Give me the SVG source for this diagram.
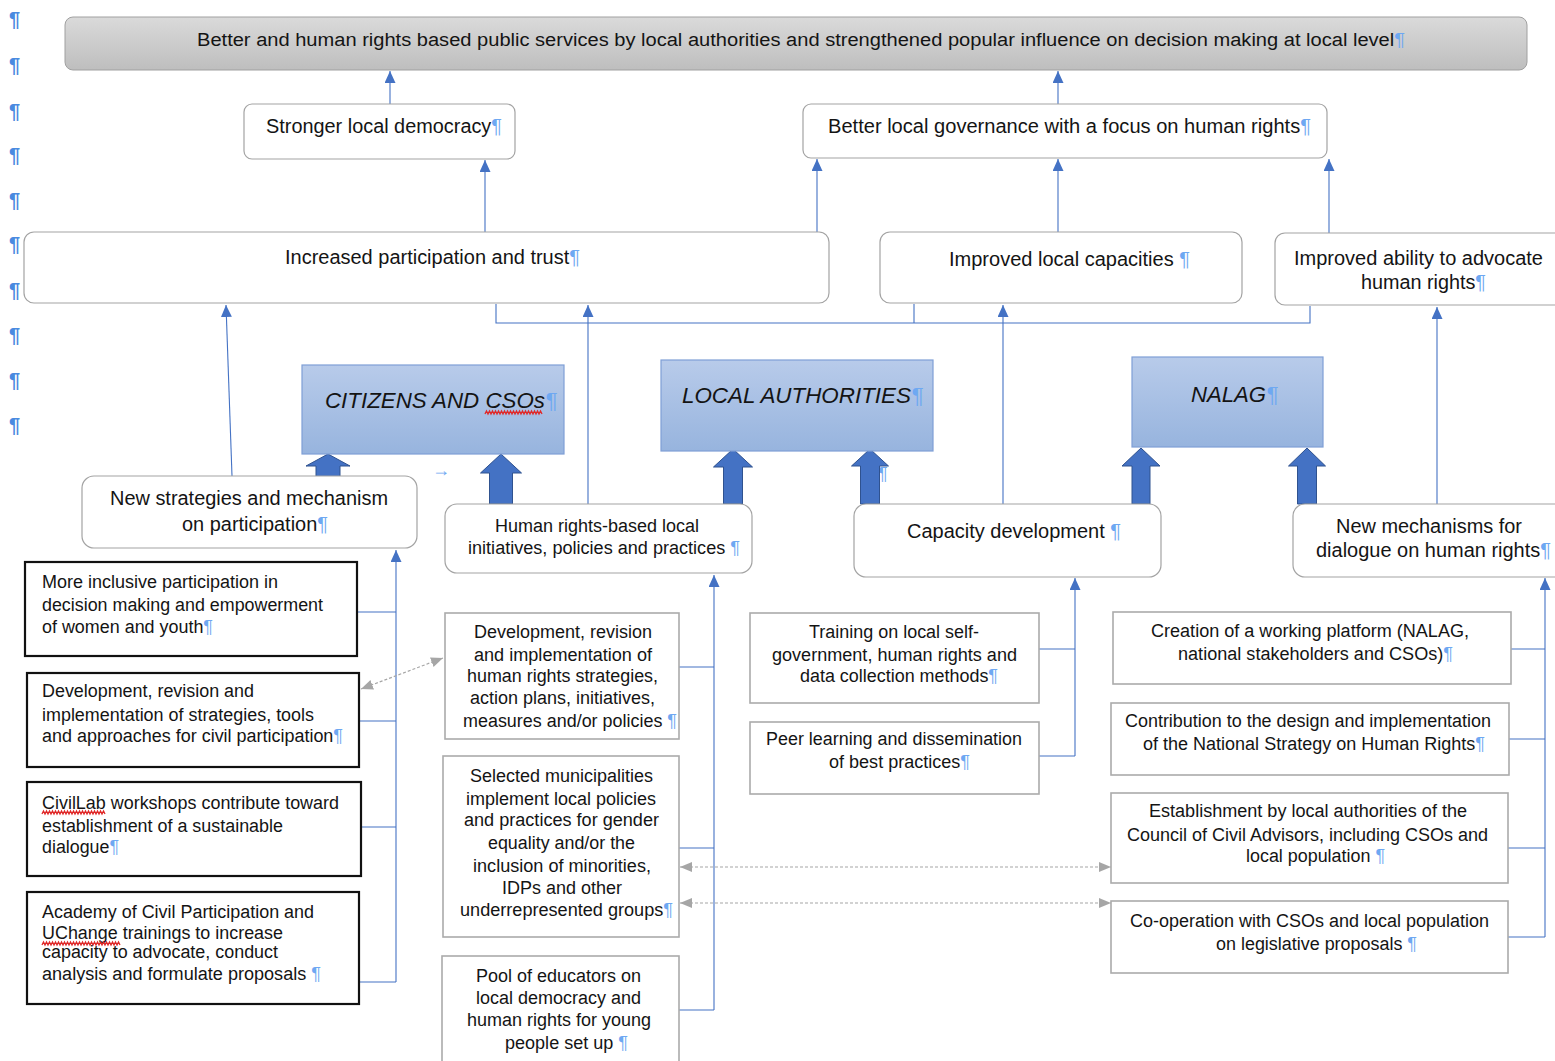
<svg xmlns="http://www.w3.org/2000/svg" width="1555" height="1061" viewBox="0 0 1555 1061">
<style>
.t{font-family:"Liberation Sans",Arial,Helvetica,sans-serif;font-size:18px;fill:#141414}
.b{font-size:20px}
.i{font-style:italic;font-size:22px}
.p{fill:#6ea8f2}
.lp{font-family:"Liberation Sans",Arial,sans-serif;font-size:20px;font-weight:bold;fill:#4a8ae0}
.rb{fill:#fff;stroke:#a3a3a3;stroke-width:1.2}
.gb{fill:#fff;stroke:#ababab;stroke-width:1.6}
.kb{fill:#fff;stroke:#111;stroke-width:2.2}
.bb{fill:url(#blueg);stroke:#7f9fd6;stroke-width:1.2}
.cn{fill:none;stroke:#4472c4;stroke-width:1.1}
.ar{marker-end:url(#ah)}
.ds{fill:none;stroke:#a6a6a6;stroke-width:1.2;stroke-dasharray:3 2;marker-start:url(#gh);marker-end:url(#gh)}
.fat{fill:#4472c4;stroke:#2f528f;stroke-width:1}
.sq{fill:none;stroke:#e02a2a;stroke-width:1.3}
</style>
<defs>
<linearGradient id="greyg" x1="0" y1="0" x2="0" y2="1"><stop offset="0" stop-color="#dadada"/><stop offset="1" stop-color="#bebebe"/></linearGradient>
<linearGradient id="blueg" x1="0" y1="0" x2="0" y2="1"><stop offset="0" stop-color="#b8cbea"/><stop offset="1" stop-color="#97b4de"/></linearGradient>
<marker id="ah" viewBox="0 0 12 11" markerWidth="12" markerHeight="11" refX="12" refY="5.5" orient="auto" markerUnits="userSpaceOnUse"><path d="M0,0 L12,5.5 L0,11 Z" fill="#4472c4"/></marker>
<marker id="gh" viewBox="0 0 12 10" markerWidth="12" markerHeight="10" refX="12" refY="5" orient="auto-start-reverse" markerUnits="userSpaceOnUse"><path d="M0,0 L12,5 L0,10 Z" fill="#a6a6a6"/></marker>
</defs>
<rect width="1555" height="1061" fill="#fff"/>

<g id="margin-marks">
<text class="lp" x="9" y="26">¶</text>
<text class="lp" x="9" y="72">¶</text>
<text class="lp" x="9" y="118">¶</text>
<text class="lp" x="9" y="162">¶</text>
<text class="lp" x="9" y="207">¶</text>
<text class="lp" x="9" y="251">¶</text>
<text class="lp" x="9" y="297">¶</text>
<text class="lp" x="9" y="342">¶</text>
<text class="lp" x="9" y="387">¶</text>
<text class="lp" x="9" y="432">¶</text>
</g>

<g id="connectors">
<line class="cn ar" x1="390" y1="104" x2="390" y2="71"/>
<line class="cn ar" x1="1058" y1="104" x2="1058" y2="71"/>
<line class="cn ar" x1="485" y1="232" x2="485" y2="160"/>
<line class="cn ar" x1="817" y1="232" x2="817" y2="159"/>
<line class="cn ar" x1="1058" y1="232" x2="1058" y2="159"/>
<line class="cn ar" x1="1329" y1="233" x2="1329" y2="159"/>
<path class="cn" d="M496,304 V323 H1310 V306 M914,304 V323"/>
<line class="cn ar" x1="232" y1="476" x2="226" y2="305"/>
<line class="cn ar" x1="588" y1="504" x2="588" y2="305"/>
<line class="cn ar" x1="1003" y1="504" x2="1003" y2="305"/>
<line class="cn ar" x1="1437" y1="504" x2="1437" y2="307"/>
<line class="cn ar" x1="396" y1="982" x2="396" y2="550"/>
<path class="cn" d="M357,612 H396 M359,721 H396 M361,827 H396 M359,982 H396"/>
<line class="cn ar" x1="714" y1="1010" x2="714" y2="575"/>
<path class="cn" d="M679,667 H714 M679,848 H714 M679,1010 H714"/>
<line class="cn ar" x1="1075" y1="756" x2="1075" y2="578"/>
<path class="cn" d="M1039,649 H1075 M1039,756 H1075"/>
<line class="cn ar" x1="1545" y1="937" x2="1545" y2="578"/>
<path class="cn" d="M1511,649 H1545 M1509,739 H1545 M1508,848 H1545 M1508,937 H1545"/>
<line class="ds" x1="361" y1="689" x2="443" y2="658"/>
<line class="ds" x1="680" y1="867" x2="1111" y2="867"/>
<line class="ds" x1="680" y1="903" x2="1111" y2="903"/>
<path class="fat" d="M328,454 L350,466 L340,466 L340,477 L316,477 L316,466 L306,466 Z"/>
<path class="fat" d="M501,454 L521.5,473 L512.5,473 L512.5,504 L489.5,504 L489.5,473 L480.5,473 Z"/>
<path class="fat" d="M733,449 L752.5,467 L742.5,467 L742.5,504 L723.5,504 L723.5,467 L713.5,467 Z"/>
<text class="t p" x="878" y="480" font-size="14">¶</text>
<path class="fat" d="M870,449 L888.5,466 L879.5,466 L879.5,504 L860.5,504 L860.5,466 L851.5,466 Z"/>
<path class="fat" d="M1141,448 L1160,466 L1150,466 L1150,504 L1132,504 L1132,466 L1122,466 Z"/>
<path class="fat" d="M1307,448 L1325.5,466 L1316.5,466 L1316.5,504 L1297.5,504 L1297.5,466 L1288.5,466 Z"/>
<text class="t p" x="432" y="476" font-size="19">→</text>
</g>

<g id="goal">
<rect x="65" y="17" width="1462" height="53" rx="8" fill="url(#greyg)" stroke="#a0a0a0" stroke-width="1"/>
<text class="t" x="197" y="46" font-size="18.5" textLength="1208" lengthAdjust="spacingAndGlyphs">Better and human rights based public services by local authorities and strengthened popular influence on decision making at local level<tspan class="p">¶</tspan></text>
</g>

<g id="stronger-democracy">
<rect class="rb" x="244" y="104" width="271" height="55" rx="8"/>
<text class="t b" x="266" y="133" textLength="236" lengthAdjust="spacingAndGlyphs">Stronger local democracy<tspan class="p">¶</tspan></text>
</g>

<g id="better-governance">
<rect class="rb" x="803" y="104" width="524" height="54" rx="8"/>
<text class="t b" x="828" y="133" textLength="483" lengthAdjust="spacingAndGlyphs">Better local governance with a focus on human rights<tspan class="p">¶</tspan></text>
</g>

<g id="increased-participation">
<rect class="rb" x="24" y="232" width="805" height="71" rx="10"/>
<text class="t b" x="285" y="264" textLength="295" lengthAdjust="spacingAndGlyphs">Increased participation and trust<tspan class="p">¶</tspan></text>
</g>

<g id="improved-capacities">
<rect class="rb" x="880" y="232" width="362" height="71" rx="10"/>
<text class="t b" x="949" y="266" textLength="241" lengthAdjust="spacingAndGlyphs">Improved local capacities <tspan class="p">¶</tspan></text>
</g>

<g id="improved-advocacy">
<rect class="rb" x="1275" y="233" width="295" height="72" rx="10"/>
<text class="t b" x="1294" y="265" textLength="249" lengthAdjust="spacingAndGlyphs">Improved ability to advocate</text>
<text class="t b" x="1361" y="289" textLength="125" lengthAdjust="spacingAndGlyphs">human rights<tspan class="p">¶</tspan></text>
</g>

<g id="citizens-csos">
<rect class="bb" x="302" y="365" width="262" height="89"/>
<text class="t i" x="325" y="408" textLength="232" lengthAdjust="spacingAndGlyphs">CITIZENS AND CSOs<tspan class="p">¶</tspan></text>
<path class="sq" d="M485,414 l1.5,-3 1.5,3 1.5,-3 1.5,3 1.5,-3 1.5,3 1.5,-3 1.5,3 1.5,-3 1.5,3 1.5,-3 1.5,3 1.5,-3 1.5,3 1.5,-3 1.5,3 1.5,-3 1.5,3 1.5,-3 1.5,3 1.5,-3 1.5,3 1.5,-3 1.5,3 1.5,-3 1.5,3 1.5,-3 1.5,3 1.5,-3 1.5,3 1.5,-3 1.5,3 1.5,-3 1.5,3 1.5,-3 1.5,3 1.5,-3 1.5,3"/>
</g>

<g id="local-authorities">
<rect class="bb" x="661" y="360" width="272" height="91"/>
<text class="t i" x="682" y="403" textLength="241" lengthAdjust="spacingAndGlyphs">LOCAL AUTHORITIES<tspan class="p">¶</tspan></text>
</g>

<g id="nalag">
<rect class="bb" x="1132" y="357" width="191" height="90"/>
<text class="t i" x="1191" y="402" textLength="87" lengthAdjust="spacingAndGlyphs">NALAG<tspan class="p">¶</tspan></text>
</g>

<g id="new-strategies">
<rect class="rb" x="82" y="476" width="335" height="72" rx="12"/>
<text class="t b" x="110" y="505" textLength="278" lengthAdjust="spacingAndGlyphs">New strategies and mechanism</text>
<text class="t b" x="182" y="531" textLength="146" lengthAdjust="spacingAndGlyphs">on participation<tspan class="p">¶</tspan></text>
</g>

<g id="hr-initiatives">
<rect class="rb" x="445" y="504" width="307" height="69" rx="12"/>
<text class="t" x="495" y="532" textLength="204" lengthAdjust="spacingAndGlyphs">Human rights-based local</text>
<text class="t" x="468" y="554" textLength="272" lengthAdjust="spacingAndGlyphs">initiatives, policies and practices <tspan class="p">¶</tspan></text>
</g>

<g id="capacity-development">
<rect class="rb" x="854" y="504" width="307" height="73" rx="12"/>
<text class="t b" x="907" y="538" textLength="214" lengthAdjust="spacingAndGlyphs">Capacity development <tspan class="p">¶</tspan></text>
</g>

<g id="new-mechanisms">
<rect class="rb" x="1293" y="504" width="275" height="73" rx="12"/>
<text class="t b" x="1336" y="533" textLength="186" lengthAdjust="spacingAndGlyphs">New mechanisms for</text>
<text class="t b" x="1316" y="557" textLength="235" lengthAdjust="spacingAndGlyphs">dialogue on human rights<tspan class="p">¶</tspan></text>
</g>

<g id="inclusive-participation">
<rect class="kb" x="25" y="562" width="332" height="94"/>
<text class="t" x="42" y="588" textLength="236" lengthAdjust="spacingAndGlyphs">More inclusive participation in</text>
<text class="t" x="42" y="611" textLength="281" lengthAdjust="spacingAndGlyphs">decision making and empowerment</text>
<text class="t" x="42" y="633" textLength="171" lengthAdjust="spacingAndGlyphs">of women and youth<tspan class="p">¶</tspan></text>
</g>

<g id="civil-strategies">
<rect class="kb" x="27" y="673" width="332" height="94"/>
<text class="t" x="42" y="697" textLength="212" lengthAdjust="spacingAndGlyphs">Development, revision and</text>
<text class="t" x="42" y="721" textLength="272" lengthAdjust="spacingAndGlyphs">implementation of strategies, tools</text>
<text class="t" x="42" y="742" textLength="301" lengthAdjust="spacingAndGlyphs">and approaches for civil participation<tspan class="p">¶</tspan></text>
</g>

<g id="civillab">
<rect class="kb" x="27" y="782" width="334" height="94"/>
<text class="t" x="42" y="809" textLength="297" lengthAdjust="spacingAndGlyphs">CivilLab workshops contribute toward</text>
<path class="sq" d="M42,814 l1.5,-3 1.5,3 1.5,-3 1.5,3 1.5,-3 1.5,3 1.5,-3 1.5,3 1.5,-3 1.5,3 1.5,-3 1.5,3 1.5,-3 1.5,3 1.5,-3 1.5,3 1.5,-3 1.5,3 1.5,-3 1.5,3 1.5,-3 1.5,3 1.5,-3 1.5,3 1.5,-3 1.5,3 1.5,-3 1.5,3 1.5,-3 1.5,3 1.5,-3 1.5,3 1.5,-3 1.5,3 1.5,-3 1.5,3 1.5,-3 1.5,3 1.5,-3 1.5,3 1.5,-3 1.5,3"/>
<text class="t" x="42" y="832" textLength="241" lengthAdjust="spacingAndGlyphs">establishment of a sustainable</text>
<text class="t" x="42" y="853" textLength="77" lengthAdjust="spacingAndGlyphs">dialogue<tspan class="p">¶</tspan></text>
</g>

<g id="academy">
<rect class="kb" x="27" y="892" width="332" height="112"/>
<text class="t" x="42" y="918" textLength="272" lengthAdjust="spacingAndGlyphs">Academy of Civil Participation and</text>
<text class="t" x="42" y="939" textLength="241" lengthAdjust="spacingAndGlyphs">UChange trainings to increase</text>
<path class="sq" d="M42,945 l1.5,-3 1.5,3 1.5,-3 1.5,3 1.5,-3 1.5,3 1.5,-3 1.5,3 1.5,-3 1.5,3 1.5,-3 1.5,3 1.5,-3 1.5,3 1.5,-3 1.5,3 1.5,-3 1.5,3 1.5,-3 1.5,3 1.5,-3 1.5,3 1.5,-3 1.5,3 1.5,-3 1.5,3 1.5,-3 1.5,3 1.5,-3 1.5,3 1.5,-3 1.5,3 1.5,-3 1.5,3 1.5,-3 1.5,3 1.5,-3 1.5,3 1.5,-3 1.5,3 1.5,-3 1.5,3 1.5,-3 1.5,3 1.5,-3 1.5,3 1.5,-3 1.5,3 1.5,-3 1.5,3 1.5,-3 1.5,3"/>
<text class="t" x="42" y="958" textLength="236" lengthAdjust="spacingAndGlyphs">capacity to advocate, conduct</text>
<text class="t" x="42" y="980" textLength="279" lengthAdjust="spacingAndGlyphs">analysis and formulate proposals <tspan class="p">¶</tspan></text>
</g>

<g id="hr-strategies">
<rect class="gb" x="445" y="613" width="234" height="126"/>
<text class="t" x="474" y="638" textLength="178" lengthAdjust="spacingAndGlyphs">Development, revision</text>
<text class="t" x="474" y="661" textLength="178" lengthAdjust="spacingAndGlyphs">and implementation of</text>
<text class="t" x="467" y="682" textLength="191" lengthAdjust="spacingAndGlyphs">human rights strategies,</text>
<text class="t" x="470" y="704" textLength="185" lengthAdjust="spacingAndGlyphs">action plans, initiatives,</text>
<text class="t" x="463" y="727" textLength="214" lengthAdjust="spacingAndGlyphs">measures and/or policies <tspan class="p">¶</tspan></text>
</g>

<g id="selected-municipalities">
<rect class="gb" x="443" y="756" width="236" height="181"/>
<text class="t" x="470" y="782" textLength="183" lengthAdjust="spacingAndGlyphs">Selected municipalities</text>
<text class="t" x="466" y="805" textLength="190" lengthAdjust="spacingAndGlyphs">implement local policies</text>
<text class="t" x="464" y="826" textLength="195" lengthAdjust="spacingAndGlyphs">and practices for gender</text>
<text class="t" x="488" y="849" textLength="147" lengthAdjust="spacingAndGlyphs">equality and/or the</text>
<text class="t" x="473" y="872" textLength="178" lengthAdjust="spacingAndGlyphs">inclusion of minorities,</text>
<text class="t" x="502" y="894" textLength="120" lengthAdjust="spacingAndGlyphs">IDPs and other</text>
<text class="t" x="460" y="916" textLength="213" lengthAdjust="spacingAndGlyphs">underrepresented groups<tspan class="p">¶</tspan></text>
</g>

<g id="pool-educators">
<rect class="gb" x="442" y="956" width="237" height="120"/>
<text class="t" x="476" y="982" textLength="165" lengthAdjust="spacingAndGlyphs">Pool of educators on</text>
<text class="t" x="476" y="1004" textLength="165" lengthAdjust="spacingAndGlyphs">local democracy and</text>
<text class="t" x="467" y="1026" textLength="184" lengthAdjust="spacingAndGlyphs">human rights for young</text>
<text class="t" x="505" y="1049" textLength="123" lengthAdjust="spacingAndGlyphs">people set up <tspan class="p">¶</tspan></text>
</g>

<g id="training">
<rect class="gb" x="750" y="613" width="289" height="90"/>
<text class="t" x="809" y="638" textLength="170" lengthAdjust="spacingAndGlyphs">Training on local self-</text>
<text class="t" x="772" y="661" textLength="245" lengthAdjust="spacingAndGlyphs">government, human rights and</text>
<text class="t" x="800" y="682" textLength="198" lengthAdjust="spacingAndGlyphs">data collection methods<tspan class="p">¶</tspan></text>
</g>

<g id="peer-learning">
<rect class="gb" x="750" y="722" width="289" height="72"/>
<text class="t" x="766" y="745" textLength="256" lengthAdjust="spacingAndGlyphs">Peer learning and dissemination</text>
<text class="t" x="829" y="768" textLength="141" lengthAdjust="spacingAndGlyphs">of best practices<tspan class="p">¶</tspan></text>
</g>

<g id="working-platform">
<rect class="gb" x="1113" y="612" width="398" height="72"/>
<text class="t" x="1151" y="637" textLength="318" lengthAdjust="spacingAndGlyphs">Creation of a working platform (NALAG,</text>
<text class="t" x="1178" y="660" textLength="275" lengthAdjust="spacingAndGlyphs">national stakeholders and CSOs)<tspan class="p">¶</tspan></text>
</g>

<g id="national-strategy">
<rect class="gb" x="1111" y="703" width="398" height="72"/>
<text class="t" x="1125" y="727" textLength="366" lengthAdjust="spacingAndGlyphs">Contribution to the design and implementation</text>
<text class="t" x="1143" y="750" textLength="342" lengthAdjust="spacingAndGlyphs">of the National Strategy on Human Rights<tspan class="p">¶</tspan></text>
</g>

<g id="council-advisors">
<rect class="gb" x="1111" y="793" width="397" height="90"/>
<text class="t" x="1149" y="817" textLength="318" lengthAdjust="spacingAndGlyphs">Establishment by local authorities of the</text>
<text class="t" x="1127" y="841" textLength="361" lengthAdjust="spacingAndGlyphs">Council of Civil Advisors, including CSOs and</text>
<text class="t" x="1246" y="862" textLength="139" lengthAdjust="spacingAndGlyphs">local population <tspan class="p">¶</tspan></text>
</g>

<g id="legislative-cooperation">
<rect class="gb" x="1111" y="901" width="397" height="72"/>
<text class="t" x="1130" y="927" textLength="359" lengthAdjust="spacingAndGlyphs">Co-operation with CSOs and local population</text>
<text class="t" x="1216" y="950" textLength="201" lengthAdjust="spacingAndGlyphs">on legislative proposals <tspan class="p">¶</tspan></text>
</g>
</svg>
